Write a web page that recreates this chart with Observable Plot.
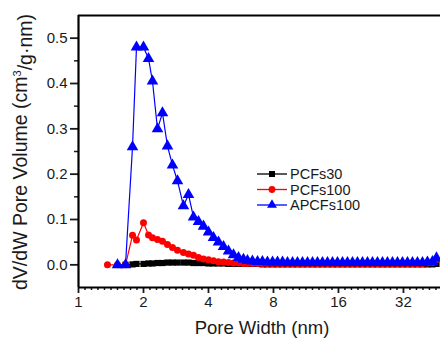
<!DOCTYPE html>
<html><head><meta charset="utf-8">
<script src="https://cdn.jsdelivr.net/npm/d3@7"></script>
<script src="https://cdn.jsdelivr.net/npm/@observablehq/plot@0.6"></script>
<style>
body{margin:0;background:#fff;}
#chart{width:440px;height:340px;overflow:hidden;position:relative;}
</style>
</head><body><div id="chart"></div>
<script>
// Pore width (nm), shared grid
const poreWidth = [1.362, 1.516, 1.651, 1.779, 1.856, 2.0, 2.110, 2.201, 2.322, 2.449, 2.583, 2.725, 2.874, 3.063, 3.232, 3.409, 3.595, 3.792, 4.0, 4.219, 4.450, 4.695, 4.952, 5.223, 5.510, 5.808, 6.063,
  6.39, 6.75, 7.11, 7.50, 7.92, 8.35, 8.81, 9.29, 9.80, 10.33, 10.90, 11.50, 12.13, 12.79, 13.49, 14.23, 15.01, 15.83, 16.70, 17.61, 18.58, 19.59, 20.67, 21.80, 22.99, 24.25, 25.58, 26.98, 28.46, 30.02, 31.66, 33.40, 35.22, 37.15, 39.18, 41.33, 43.60,
  45.5];
const pcfs30 = [null, null, 0.0, 0.001, 0.002, 0.002, 0.003, 0.003, 0.004, 0.004, 0.005, 0.005, 0.005, 0.005, 0.005, 0.004, 0.004, 0.004, 0.003, 0.003, 0.003, 0.003, 0.002, 0.002, 0.002, 0.002, 0.002,
  0.002, 0.002, 0.001, 0.001, 0.001, 0.001, 0.001, 0.001, 0.001, 0.001, 0.001, 0.001, 0.001, 0.001, 0.001, 0.001, 0.001, 0.001, 0.001, 0.001, 0.001, 0.001, 0.001, 0.001, 0.001, 0.001, 0.001, 0.001, 0.001, 0.001, 0.001, 0.001, 0.001, 0.001, 0.001, 0.001, 0.001,
  0.002];
const pcfs100 = [0.0, 0.0, 0.0, 0.065, 0.055, 0.093, 0.066, 0.060, 0.056, 0.052, 0.045, 0.038, 0.032, 0.027, 0.024, 0.021, 0.016, 0.013, 0.011, 0.009, 0.007, 0.006, 0.005, 0.004, 0.004, 0.003, 0.003,
  0.003, 0.003, 0.003, 0.003, 0.003, 0.003, 0.003, 0.003, 0.003, 0.003, 0.003, 0.003, 0.003, 0.003, 0.003, 0.003, 0.003, 0.003, 0.003, 0.003, 0.003, 0.003, 0.003, 0.003, 0.003, 0.003, 0.003, 0.003, 0.003, 0.003, 0.003, 0.003, 0.003, 0.003, 0.003, 0.004, 0.005,
  0.012];
const apcfs100 = [null, 0.0, 0.0, 0.26, 0.48, 0.48, 0.455, 0.405, 0.30, 0.335, 0.262, 0.22, 0.185, 0.13, 0.155, 0.105, 0.095, 0.085, 0.072, 0.060, 0.050, 0.040, 0.030, 0.022, 0.016, 0.012, 0.009,
  0.008, 0.007, 0.007, 0.006, 0.006, 0.006, 0.006, 0.005, 0.005, 0.005, 0.005, 0.005, 0.005, 0.005, 0.005, 0.005, 0.005, 0.005, 0.005, 0.005, 0.005, 0.005, 0.005, 0.005, 0.005, 0.005, 0.005, 0.005, 0.005, 0.005, 0.005, 0.005, 0.005, 0.005, 0.005, 0.006, 0.007,
  0.015];

const seriesNames = ["PCFs30", "PCFs100", "APCFs100"];
const seriesColors = ["#000000", "#ff0000", "#0000ff"];
const seriesSymbols = ["square", "circle", "triangle"];
const xTicks = [1, 2, 4, 8, 16, 32];
const yTicks = [0, 0.1, 0.2, 0.3, 0.4, 0.5];
const yMinorTicks = [0.05, 0.15, 0.25, 0.35, 0.45];
const xTitle = "Pore Width (nm)";
const yTitleParts = ["dV/dW Pore Volume (cm", "3", "/g·nm)"];

const xMinorTicks = d3.range(1, 56).filter(k => k % 10 !== 0).map(k => 2 ** (k / 10));
const font = "'Liberation Sans', Arial, sans-serif";
const seriesValues = [pcfs30, pcfs100, apcfs100];

const dataMarks = [];
seriesValues.forEach((vals, i) => {
  dataMarks.push(Plot.line(poreWidth, {x: d => d, y: vals, stroke: seriesColors[i], strokeWidth: 1.2}));
  dataMarks.push(Plot.dot(poreWidth, {x: d => d, y: vals, symbol: seriesSymbols[i], fill: seriesColors[i], stroke: "none", r: seriesSymbols[i] === "triangle" ? 4.3 : 3.5}));
});

const plot = Plot.plot({
  width: 440, height: 340,
  marginLeft: 78, marginRight: 0, marginTop: 15, marginBottom: 53,
  style: {fontFamily: font, fontSize: "15px", color: "#1a1a1a", background: "#fff", overflow: "hidden"},
  x: {type: "log", base: 2, domain: [1, 47.5]},
  y: {domain: [-0.05, 0.55]},
  marks: [
    Plot.axisX({ticks: xMinorTicks, tickSize: 3, strokeWidth: 1.5, tickFormat: () => "", label: null}),
    Plot.axisX({ticks: xTicks, tickSize: 6, strokeWidth: 1.8, tickPadding: 3, tickFormat: d => String(d), label: null, fontSize: 15}),
    Plot.axisY({ticks: yMinorTicks, tickSize: 4, strokeWidth: 1.5, tickFormat: () => "", label: null}),
    Plot.axisY({ticks: yTicks, tickSize: 8, strokeWidth: 1.8, tickPadding: 3, tickFormat: d => d.toFixed(1), label: null, fontSize: 15}),
    ...dataMarks,
    Plot.ruleX([1], {stroke: "#000", strokeWidth: 2.2}),
    Plot.ruleY([-0.05], {stroke: "#000", strokeWidth: 2.2}),
    Plot.ruleY([0.55], {stroke: "#000", strokeWidth: 2.2})
  ]
});

const svg = d3.select(plot);
// Axis titles
svg.append("text")
  .attr("x", 262).attr("y", 334)
  .attr("text-anchor", "middle")
  .attr("font-family", font).attr("font-size", 18.5).attr("fill", "#1a1a1a")
  .text(xTitle);
const yt = svg.append("text")
  .attr("transform", "translate(27,152) rotate(-90)")
  .attr("text-anchor", "middle")
  .attr("font-family", font).attr("font-size", 19.5).attr("fill", "#1a1a1a");
yt.append("tspan").text(yTitleParts[0]);
yt.append("tspan").attr("dy", "-0.55em").attr("font-size", 11).text(yTitleParts[1]);
yt.append("tspan").attr("dy", "0.55em").text(yTitleParts[2]);

// Legend
const symType = {square: d3.symbolSquare, circle: d3.symbolCircle, triangle: d3.symbolTriangle};
const leg = svg.append("g");
seriesNames.forEach((name, i) => {
  const cy = 174 + i * 15.5;
  leg.append("line").attr("x1", 257).attr("x2", 287).attr("y1", cy).attr("y2", cy)
    .attr("stroke", seriesColors[i]).attr("stroke-width", 1.3);
  leg.append("path").attr("transform", `translate(272,${cy})`)
    .attr("d", d3.symbol(symType[seriesSymbols[i]], seriesSymbols[i] === "triangle" ? 42 : 36)())
    .attr("fill", seriesColors[i]);
  leg.append("text").attr("x", 290).attr("y", cy).attr("dy", "0.35em")
    .attr("text-anchor", "start")
    .attr("font-family", font).attr("font-size", 14.5).attr("fill", "#1a1a1a")
    .text(name);
});

document.getElementById("chart").appendChild(plot);
</script>
</body></html>
